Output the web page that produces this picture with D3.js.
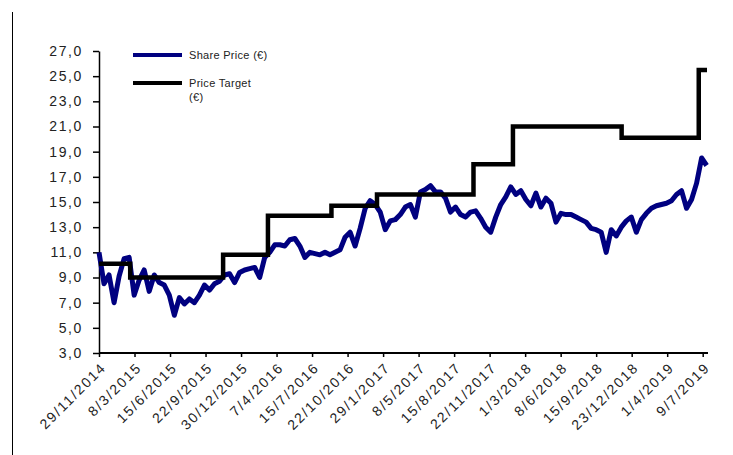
<!DOCTYPE html>
<html>
<head>
<meta charset="utf-8">
<script src="https://cdn.jsdelivr.net/npm/d3@7"></script>
<style>
body { margin: 0; background: #fff; }
text { font-family: "Liberation Sans", Arial, sans-serif; fill: #222; }
</style>
</head>
<body>
<svg id="graph1"></svg>
<script>
var screen = {width: 733, height: 455};
var margins = {top: 51, right: 26, bottom: 102, left: 99};

// share price, one reading every 14 days from the first date
var priceStart = "29/11/2014";
var priceStepDays = 14;
var priceValues = [
    11.0, 8.5, 9.2, 7.0, 9.1, 10.5, 10.6, 7.6, 8.8, 9.6,
    7.9, 9.2, 8.6, 8.4, 7.6, 6.0, 7.4, 6.9, 7.3, 7.0,
    7.6, 8.4, 8.0, 8.5, 8.7, 9.2, 9.3, 8.6, 9.4, 9.6,
    9.7, 9.8, 9.0, 10.6, 11.0, 11.6, 11.6, 11.5, 12.0, 12.1,
    11.5, 10.6, 11.0, 10.9, 10.8, 11.0, 10.8, 11.0, 11.2, 12.2,
    12.6, 11.5, 12.9, 14.5, 15.1, 14.8, 14.2, 12.8, 13.5, 13.6,
    14.0, 14.6, 14.8, 13.8, 15.8, 16.0, 16.3, 15.8, 15.8, 15.3,
    14.2, 14.6, 14.0, 13.8, 14.2, 14.3, 13.7, 13.0, 12.6, 13.8,
    14.8, 15.4, 16.2, 15.6, 15.9, 15.2, 14.7, 15.7, 14.6, 15.3,
    14.9, 13.4, 14.1, 14.0, 14.0, 13.8, 13.6, 13.4, 12.9, 12.8,
    12.6, 11.0, 12.8, 12.3, 13.0, 13.5, 13.8, 12.6, 13.6, 14.1,
    14.5, 14.7, 14.8, 14.9, 15.1, 15.6, 15.9, 14.5, 15.2, 16.5,
    18.5, 17.9
];

// price target changes
var targetDates = ["29/11/2014", "24/2/2015", "10/11/2015", "14/3/2016", "7/9/2016",
                   "12/1/2017", "8/10/2017", "26/1/2018", "25/11/2018", "28/6/2019", "21/7/2019"];
var targetValues = [10.1, 9.0, 10.8, 13.9, 14.7, 15.6, 18.0, 21.0, 20.1, 25.5, 25.5];

var xTickLabels = ["29/11/2014", "8/3/2015", "15/6/2015", "22/9/2015", "30/12/2015", "7/4/2016",
                   "15/7/2016", "22/10/2016", "29/1/2017", "8/5/2017", "15/8/2017", "22/11/2017",
                   "1/3/2018", "8/6/2018", "15/9/2018", "23/12/2018", "1/4/2019", "9/7/2019"];
var yTickValues = [3, 5, 7, 9, 11, 13, 15, 17, 19, 21, 23, 25, 27];

var legendLabels = [["Share  Price (€)"], ["Price Target", "(€)"]];
var legendColors = ["#000080", "#000000"];

var parseDate = d3.timeParse("%d/%m/%Y");

var setup = function()
{
    var svg = d3.select("#graph1")
        .attr("width", screen.width)
        .attr("height", screen.height)

    var width = screen.width - margins.left - margins.right;
    var height = screen.height - margins.top - margins.bottom;

    var start = parseDate(priceStart)
    var priceData = priceValues.map(function(v, i) {
        return {date: d3.timeDay.offset(start, i * priceStepDays), value: v}
    })
    var targetData = targetValues.map(function(v, i) {
        return {date: parseDate(targetDates[i]), value: v}
    })

    var xScale = d3.scaleTime()
        .domain([parseDate("29/11/2014"), parseDate("21/7/2019")])
        .range([0, width])

    var yScale = d3.scaleLinear()
        .domain([3, 27])
        .range([height, 0])

    // left border line
    svg.append("line")
        .attr("x1", 12.5).attr("x2", 12.5)
        .attr("y1", 12).attr("y2", screen.height)
        .attr("stroke", "#000")
        .attr("stroke-width", 1)

    var graph = svg.append("g")
        .attr("id", "graph")
        .attr("transform", "translate(" + margins.left + "," + margins.top + ")");

    var xAxis = d3.axisBottom(xScale)
        .tickValues(xTickLabels.map(parseDate))
        .tickFormat(function(d, i) { return xTickLabels[i] })
        .tickSize(4)
        .tickSizeOuter(0)

    var yAxis = d3.axisLeft(yScale)
        .tickValues(yTickValues)
        .tickFormat(function(d) { return d3.format(".1f")(d).replace(".", ",") })
        .tickSize(6)
        .tickSizeOuter(0)
        .tickPadding(10)

    var gx = graph.append("g")
        .attr("id", "xAxis")
        .attr("transform", "translate(0," + height + ")")
        .call(xAxis)
    gx.select(".domain").attr("stroke-width", 2).attr("d", "M0,0H" + (width + 1))
    gx.selectAll(".tick line").attr("stroke-width", 1.5)
    gx.selectAll(".tick text")
        .attr("transform", "translate(4,12) rotate(-45)")
        .attr("text-anchor", "end")
        .attr("dy", "0.35em")
        .attr("y", 0)
        .attr("x", 0)
        .style("font-size", "14px")
        .style("letter-spacing", "1.8px")
        .style("fill", "#222")

    var gy = graph.append("g")
        .attr("id", "yAxis")
        .call(yAxis)
    gy.select(".domain").attr("stroke-width", 1.5)
    gy.selectAll(".tick line").attr("stroke-width", 1.5)
    gy.selectAll(".tick text")
        .style("font-size", "14px")
        .style("letter-spacing", "1.6px")
        .style("fill", "#222")

    graph.append("path")
        .datum(priceData)
        .attr("fill", "none")
        .attr("stroke", legendColors[0])
        .attr("stroke-width", 5)
        .attr("stroke-linejoin", "round")
        .attr("d", d3.line()
            .x(function(d) { return xScale(d.date) })
            .y(function(d) { return yScale(d.value) }))

    graph.append("path")
        .datum(targetData)
        .attr("fill", "none")
        .attr("stroke", legendColors[1])
        .attr("stroke-width", 4.5)
        .attr("d", d3.line()
            .curve(d3.curveStepAfter)
            .x(function(d) { return xScale(d.date) })
            .y(function(d) { return yScale(d.value) }))

    legend(svg)
}

var legend = function(svg)
{
    var items = svg.append("g")
        .attr("id", "legend")
        .selectAll("g")
        .data(legendLabels)
        .enter()
        .append("g")
        .attr("transform", function(d, i) { return "translate(133," + (55 + i * 28) + ")" })

    items.append("line")
        .attr("x1", 0).attr("x2", 49)
        .attr("y1", 0).attr("y2", 0)
        .attr("stroke", function(d, i) { return legendColors[i] })
        .attr("stroke-width", 4)

    items.selectAll("text")
        .data(function(d) { return d })
        .enter()
        .append("text")
        .attr("x", 56)
        .attr("y", function(d, j) { return 4 + j * 14 })
        .text(function(d) { return d })
        .style("font-size", "11px")
        .style("letter-spacing", "0.3px")
}

setup()
</script>
</body>
</html>
